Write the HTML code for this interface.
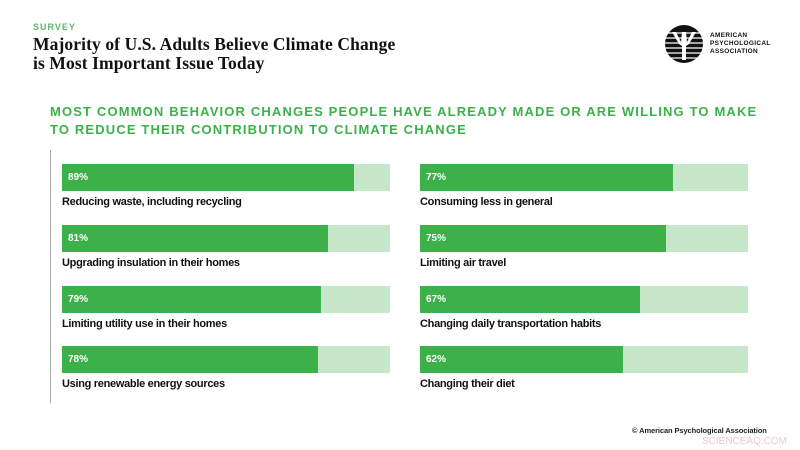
<!DOCTYPE html>
<html><head><style>
body{margin:0;width:800px;height:450px;background:#fff;position:relative;overflow:hidden;font-family:"Liberation Sans",sans-serif}
.a{position:absolute}
.bar{position:absolute;width:328px;height:27px;background:#c6e7c9}
.fill{position:absolute;left:0;top:0;height:27px;background:#3cb14a}
.pct{position:absolute;left:6px;top:8px;color:#fff;font-size:10px;font-weight:bold}
.lab{position:absolute;font-size:11px;font-weight:bold;color:#111;white-space:nowrap;letter-spacing:-0.3px}
</style></head><body>
<div class="a" style="left:33px;top:22px;font-size:9px;font-weight:bold;color:#5cb86a;letter-spacing:1px">SURVEY</div>
<div class="a" style="left:33px;top:35px;font-family:'Liberation Serif',serif;font-weight:bold;font-size:17.5px;line-height:19px;color:#111;letter-spacing:0.1px">Majority of U.S. Adults Believe Climate Change<br>is Most Important Issue Today</div>
<svg class="a" style="left:664px;top:24px" width="40" height="40" viewBox="0 0 40 40">
<circle cx="20" cy="20" r="19" fill="#111"/>
<g stroke="#fff" stroke-width="1.3"><line x1="1" y1="9" x2="39" y2="9"/><line x1="1" y1="14" x2="39" y2="14"/><line x1="1" y1="19" x2="39" y2="19"/><line x1="1" y1="24" x2="39" y2="24"/><line x1="1" y1="29" x2="39" y2="29"/><line x1="1" y1="34" x2="39" y2="34"/></g>
<path d="M8 8 L15 20 L18 22 L18 36 L22 36 L22 22 L25 20 L32 8 L28 8 L23 18 L22 8 L18 8 L17 18 L12 8Z" fill="#fff"/>
</svg>
<div class="a" style="left:710px;top:32px;font-size:6.5px;font-weight:bold;line-height:8px;color:#111;letter-spacing:.3px">AMERICAN<br>PSYCHOLOGICAL<br>ASSOCIATION</div>
<div class="a" style="left:50px;top:103px;font-size:13px;font-weight:bold;line-height:18px;color:#3cb14a;letter-spacing:1.15px;white-space:nowrap">MOST COMMON BEHAVIOR CHANGES PEOPLE HAVE ALREADY MADE OR ARE WILLING TO MAKE<br>TO REDUCE THEIR CONTRIBUTION TO CLIMATE CHANGE</div>
<div class="a" style="left:50px;top:150px;width:1px;height:253px;background:#aaa"></div>

<div class="bar" style="left:62px;top:164px"><div class="fill" style="width:292px"><span class="pct">89%</span></div></div>
<div class="lab" style="left:62px;top:196px">Reducing waste, including recycling</div>
<div class="bar" style="left:62px;top:225px"><div class="fill" style="width:266px"><span class="pct">81%</span></div></div>
<div class="lab" style="left:62px;top:257px">Upgrading insulation in their homes</div>
<div class="bar" style="left:62px;top:286px"><div class="fill" style="width:259px"><span class="pct">79%</span></div></div>
<div class="lab" style="left:62px;top:318px">Limiting utility use in their homes</div>
<div class="bar" style="left:62px;top:346px"><div class="fill" style="width:256px"><span class="pct">78%</span></div></div>
<div class="lab" style="left:62px;top:378px">Using renewable energy sources</div>

<div class="bar" style="left:420px;top:164px"><div class="fill" style="width:253px"><span class="pct">77%</span></div></div>
<div class="lab" style="left:420px;top:196px">Consuming less in general</div>
<div class="bar" style="left:420px;top:225px"><div class="fill" style="width:246px"><span class="pct">75%</span></div></div>
<div class="lab" style="left:420px;top:257px">Limiting air travel</div>
<div class="bar" style="left:420px;top:286px"><div class="fill" style="width:220px"><span class="pct">67%</span></div></div>
<div class="lab" style="left:420px;top:318px">Changing daily transportation habits</div>
<div class="bar" style="left:420px;top:346px"><div class="fill" style="width:203px"><span class="pct">62%</span></div></div>
<div class="lab" style="left:420px;top:378px">Changing their diet</div>

<div class="a" style="left:632px;top:426px;font-size:7.5px;font-weight:bold;color:#222;letter-spacing:-0.1px">© American Psychological Association</div>
<div class="a" style="left:702px;top:436px;font-size:10px;color:#f2c6cf">SCIENCEAQ.COM</div>
</body></html>
